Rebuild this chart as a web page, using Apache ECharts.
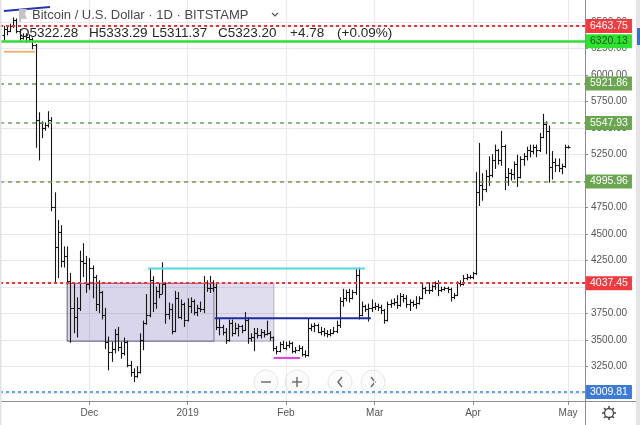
<!DOCTYPE html>
<html><head><meta charset="utf-8">
<script src="https://cdn.jsdelivr.net/npm/echarts@6/dist/echarts.min.js"></script>
<style>html,body{margin:0;padding:0;background:#fff;}#c{width:640px;height:425px;}</style>
</head><body><div id="c"></div><script>
// ---------------- DATA ----------------
const firstDate = '2018-11-04';
const opens = [
 6380,6440,6420,6460,6520,6420,6350,6370,6360,6340,6280,5580,5550,5500,5530,5580,4760,4380,4520,4250,4290,4060,3800,3720,3800,4250,4230,
 4030,4180,4100,3840,3950,3740,3480,3390,3420,3560,3440,3380,3480,3270,3200,3160,3200,3500,3660,3740,4070,3850,3960,3940,4030,3750,3790,3590,3900,3720,3840,
 3690,3820,3870,3770,3800,3790,4040,3990,3990,4000,3620,3620,3580,3500,3660,3570,3610,3630,3600,3690,3520,3530,3570,3550,3580,3560,3570,3530,3430,3400,3460,
 3430,3450,3470,3400,3410,3430,3370,3360,3610,3630,3640,3580,3590,3570,3560,3570,3590,3640,3870,3900,3950,3900,3950,4110,3740,3820,3790,3800,
 3810,3820,3810,3780,3690,3840,3850,3860,3830,3920,3900,3840,3860,3840,3850,3900,3990,3970,3970,4010,4040,3970,3980,3990,3980,3910,3930,4040,4030,4090,4100,
 4100,4130,4900,4960,4930,5050,5060,5200,5290,5200,5330,5040,5080,5070,5160,5040,5210,5240,5290,5280,5320,5290,5420,5540,5470,5130,5180,5150,5120,5140,
 5322.28
];
const highs = [
 6460,6450,6480,6540,6530,6430,6390,6390,6380,6350,6290,5645,5560,5550,5655,5600,4890,4630,4580,4380,4380,4130,4040,3900,4340,4410,4290,
 4270,4200,4110,4060,3960,3800,3530,3480,3600,3620,3480,3520,3490,3300,3230,3250,3560,3680,3930,4170,4100,4000,4030,4230,4040,3850,3840,3960,3950,3880,3850,
 3890,3900,3880,3830,3860,4100,4060,4100,4060,4030,3700,3640,3610,3690,3690,3660,3650,3640,3760,3710,3560,3610,3610,3600,3590,3680,3580,3530,3440,3480,3490,
 3480,3490,3480,3430,3450,3440,3400,3700,3650,3660,3650,3620,3610,3590,3600,3620,3680,3900,3980,3970,3980,3970,4170,4180,3860,3830,3840,3880,
 3850,3840,3830,3790,3860,3880,3890,3920,3940,3930,3920,3880,3870,3910,3910,4040,4000,4040,4020,4050,4060,4000,4000,4000,3990,3940,4050,4060,4110,4120,4110,
 4140,5080,5356,5070,5100,5230,5250,5340,5300,5470,5340,5120,5110,5180,5245,5230,5260,5320,5340,5340,5340,5450,5630,5560,5520,5280,5210,5210,5160,5340,
 5333.29
];
const lows = [
 6330,6380,6410,6450,6400,6330,6340,6310,6320,6250,5320,5200,5410,5480,5510,4720,4050,4090,4190,4190,4030,3480,3570,3530,3780,4100,3950,
 3980,3900,3780,3760,3700,3420,3220,3300,3380,3400,3330,3360,3250,3160,3110,3150,3190,3410,3650,3720,3770,3800,3900,3940,3660,3700,3560,3580,3710,3700,3630,
 3680,3760,3740,3730,3770,3760,3960,3950,3960,3600,3550,3550,3470,3490,3540,3560,3540,3570,3590,3470,3490,3400,3520,3520,3530,3550,3500,3400,3370,3390,3420,
 3410,3430,3380,3380,3400,3350,3340,3350,3590,3580,3570,3550,3540,3530,3540,3560,3570,3620,3820,3870,3860,3890,3930,3700,3730,3770,3680,3770,
 3790,3780,3750,3660,3680,3810,3830,3800,3820,3860,3810,3780,3820,3800,3840,3890,3940,3940,3960,3980,3920,3960,3970,3950,3870,3890,3920,4010,4020,4070,4080,
 4080,4120,4770,4820,4900,4960,5040,5120,5160,5150,4920,4960,5010,5020,4950,5030,5150,5200,5230,5260,5230,5280,5410,5260,4990,5020,5090,5090,5070,5130,
 5311.37
];
const closes = [
 6440,6420,6460,6520,6420,6350,6370,6360,6340,6280,5580,5550,5500,5530,5580,4760,4380,4520,4250,4290,4060,3800,3720,3800,4250,4230,4030,
 4180,4100,3840,3950,3740,3480,3390,3420,3560,3440,3380,3480,3270,3200,3160,3200,3500,3660,3740,4070,3850,3960,3940,4030,3750,3790,3590,3900,3720,3840,3690,
 3820,3870,3770,3800,3790,4040,3990,3990,4000,3620,3620,3580,3500,3660,3570,3610,3630,3600,3690,3520,3530,3570,3550,3580,3560,3570,3530,3430,3400,3460,3430,
 3450,3470,3400,3410,3430,3370,3360,3610,3630,3640,3580,3590,3570,3560,3570,3590,3640,3870,3900,3950,3900,3950,4110,3740,3820,3790,3800,3810,
 3820,3810,3780,3690,3840,3850,3860,3830,3920,3900,3840,3860,3840,3850,3900,3990,3970,3970,4010,4040,3970,3980,3990,3980,3910,3930,4040,4030,4090,4100,4100,
 4130,4900,4960,4930,5050,5060,5200,5290,5200,5330,5040,5080,5070,5160,5040,5210,5240,5290,5280,5320,5290,5420,5540,5470,5130,5180,5150,5120,5140,5318.42,
 5323.20
];
const monthTickDates = ['2018-12-01','2019-01-01','2019-02-01','2019-03-01','2019-04-01','2019-05-01'];
const monthTickLabels = ['Dec','2019','Feb','Mar','Apr','May'];
const priceTicks = [3000,3250,3500,3750,4000,4250,4500,4750,5000,5250,5500,5750,6000,6250,6500];
const levelValues = [6463.75, 6320.13, 5921.86, 5547.93, 4995.96, 4037.45, 3009.81];
const lastPrice = 5323.20;
const headerTitle = 'Bitcoin / U.S. Dollar · 1D · BITSTAMP';
const headerOHLC = ['O5322.28','H5333.29','L5311.37','C5323.20','+4.78','(+0.09%)'];
// drawings, in [date, price]
const rectBox = [['2018-11-24T00:00', 4036], ['2019-01-28T05:00', 3490]];
const rectBoxInner = [['2018-11-24T00:00', 4036], ['2019-01-09T07:00', 3490]];
const cyanLine = [['2018-12-19T12:00', 4176], ['2019-02-25T22:00', 4176]];
const navyLine = [['2019-01-09T14:00', 3706], ['2019-02-27T19:00', 3706]];
const magentaLine = [['2019-01-28T05:00', 3332], ['2019-02-05T10:00', 3332]];
const orangeLine = [['2018-11-04T01:00', 6221], ['2018-11-13T19:00', 6221]];
const slopeLine = [['2018-11-04T01:00', 6605], ['2018-11-18T14:00', 6643]];

// ---------------- HELPERS ----------------
const DAY = 86400000;
const t0 = Date.parse(firstDate + 'T00:00:00Z');
const dayIdx = s => (Date.parse(s.length > 10 ? s + ':00Z' : s + 'T00:00:00Z') - t0) / DAY;
const ohlc = opens.map((o, i) => [i, o, highs[i], lows[i], closes[i]]);
const monthIdx = monthTickDates.map(dayIdx);
const pts = arr => arr.map(p => [dayIdx(p[0]), p[1]]);

const FONT = 'Liberation Sans';
const levelStyle = {
  6463.75: {c: '#e8353b', type: [3, 3], w: 2, bg: '#f23a3f', fg: '#fff'},
  6320.13: {c: '#33dd33', type: 'solid', w: 2.5, bg: '#2fe22f', fg: '#165c16'},
  5921.86: {c: '#6f9e55', type: [4, 4], w: 1.5, bg: '#6aa550', fg: '#fff'},
  5547.93: {c: '#6f9e55', type: [4, 4], w: 1.5, bg: '#6aa550', fg: '#fff'},
  4995.96: {c: '#6f9e55', type: [4, 4], w: 1.5, bg: '#6aa550', fg: '#fff'},
  4037.45: {c: '#e8353b', type: [3, 3], w: 2, bg: '#f23a3f', fg: '#fff'},
  3009.81: {c: '#3f7fd3', type: [3, 3], w: 1.5, bg: '#3b7bd6', fg: '#fff'}
};
const mkLabel = (txt, bg, fg) => ({show: true, position: 'end', distance: 1, formatter: txt, color: fg,
  backgroundColor: bg, padding: [2, 4, 1, 4], fontSize: 10.5, fontFamily: FONT});
const levelData = levelValues.map(v => {
  const s = levelStyle[v];
  return {yAxis: v, lineStyle: {color: s.c, type: s.type, width: s.w}, label: mkLabel(v.toFixed(2), s.bg, s.fg)};
});
levelData.push({yAxis: lastPrice, lineStyle: {opacity: 0, width: 0}, label: mkLabel(lastPrice.toFixed(2), '#000', '#fff')});

function renderOHLC(params, api) {
  const d = api.value(0);
  const h = api.coord([d, api.value(2)]);
  const l = api.coord([d, api.value(3)]);
  const o = api.coord([d, api.value(1)]);
  const c = api.coord([d, api.value(4)]);
  const x = Math.round(h[0]) + 0.5;
  const st = {stroke: '#161616', lineWidth: 1.1};
  const oy = Math.round(o[1]) + 0.5, cy = Math.round(c[1]) + 0.5;
  return {type: 'group', children: [
    {type: 'line', shape: {x1: x, y1: h[1] - 0.5, x2: x, y2: l[1] + 0.5}, style: st},
    {type: 'line', shape: {x1: x - 2, y1: oy, x2: x, y2: oy}, style: st},
    {type: 'line', shape: {x1: x, y1: cy, x2: x + 2, y2: cy}, style: st}
  ]};
}
const drawLine = (name, data, color, width) => ({
  name, type: 'line', data: pts(data), symbol: 'none', silent: true, z: 6,
  lineStyle: {color, width}, animation: false
});
const rectArea = (data, fill, border) => [{coord: [dayIdx(data[0][0]), data[0][1]],
  itemStyle: {color: fill, borderColor: border, borderWidth: 1}}, {coord: [dayIdx(data[1][0]), data[1][1]]}];

const chart = echarts.init(document.getElementById('c'), null, {renderer: 'canvas'});
const gridCol = '#e7e7ec';
const axisCol = '#8c8c8c';
const btnStroke = {stroke: '#666', lineWidth: 1.4, fill: null};
const buttons = [
  {x: 266, marks: [[[261, 382], [271, 382]]]},
  {x: 297, marks: [[[292, 382], [302, 382]], [[297, 377], [297, 387]]]},
  {x: 340, marks: [[[342, 377], [338, 382], [342, 387]]]},
  {x: 373, marks: [[[371, 377], [375, 382], [371, 387]]]}
];
chart.setOption({
  animation: false,
  backgroundColor: '#ffffff',
  grid: {left: 0, right: 55, top: 0, bottom: 24, containLabel: false},
  xAxis: {
    type: 'value', min: -1.2, max: 183.35,
    axisLine: {show: true, onZero: false, lineStyle: {color: axisCol}},
    axisTick: {show: true, customValues: monthIdx, length: 4, lineStyle: {color: axisCol}},
    axisLabel: {customValues: monthIdx, color: '#555', fontSize: 10, fontFamily: FONT, margin: 7,
      formatter: v => { const i = monthIdx.findIndex(m => Math.abs(m - v) < 1e-6); return i >= 0 ? monthTickLabels[i] : ''; }},
    splitLine: {show: true, lineStyle: {color: gridCol, width: 1}}
  },
  yAxis: {
    type: 'value', position: 'right', min: 2926, max: 6709, scale: true,
    axisLine: {show: true, onZero: false, lineStyle: {color: axisCol}},
    axisTick: {show: true, customValues: priceTicks, length: 3, lineStyle: {color: axisCol}},
    axisLabel: {customValues: priceTicks, color: '#555', fontSize: 10, fontFamily: FONT, margin: 6,
      formatter: v => v.toFixed(2)},
    splitLine: {show: true, lineStyle: {color: gridCol, width: 1}}
  },
  series: [
    {name: 'rect', type: 'line', data: [], silent: true, z: 1,
     markArea: {silent: true, data: [
       rectArea(rectBox, 'rgba(125,112,185,0.24)', 'rgba(110,100,150,0.45)'),
       rectArea(rectBoxInner, 'rgba(125,112,185,0.07)', 'rgba(80,70,110,0.65)')
     ]}},
    {name: 'levels', type: 'line', data: [], silent: true, z: 3,
     markLine: {silent: true, symbol: ['none', 'none'], animation: false, data: levelData, emphasis: {disabled: true}}},
    {name: 'BTCUSD', type: 'custom', renderItem: renderOHLC, data: ohlc, z: 4,
     encode: {x: 0, y: [1, 2, 3, 4]}, clip: true, silent: true},
    drawLine('cyan', cyanLine, '#55d6e3', 2),
    drawLine('navy', navyLine, '#1d2c9c', 2),
    drawLine('magenta', magentaLine, '#e142dc', 2),
    drawLine('orange', orangeLine, '#f2b27a', 2),
    drawLine('slope', slopeLine, '#2637ad', 2)
  ],
  graphic: [
    {type: 'rect', shape: {x: 0, y: 0, width: 1.5, height: 425}, style: {fill: '#e2e2e6'}, z: 50},
    {type: 'rect', shape: {x: 636, y: 0, width: 4, height: 425}, style: {fill: '#e3e3e8'}, z: 50},
    {type: 'rect', shape: {x: 637, y: 28, width: 3, height: 17}, style: {fill: '#2f73d8'}, z: 51},
    {type: 'line', shape: {x1: 585, y1: 401.5, x2: 636, y2: 401.5}, style: {stroke: axisCol, lineWidth: 1}, z: 50},
    {type: 'line', shape: {x1: 585.5, y1: 401, x2: 585.5, y2: 425}, style: {stroke: axisCol, lineWidth: 1}, z: 50},
    // flag icon
    {type: 'polygon', shape: {points: [[19, 9], [27, 9], [25, 14], [27, 19], [21, 19], [21, 22], [19, 22]]},
     style: {fill: '#c4c4c8'}, z: 60},
    {type: 'text', x: 32, y: 15, style: {text: headerTitle, fill: '#4a4a4a', font: '13px ' + FONT, verticalAlign: 'middle'}, z: 60},
    {type: 'polyline', shape: {points: [[272, 13], [275, 16], [278, 13]]}, style: {stroke: '#555', lineWidth: 1.2, fill: null}, z: 60},
    ...headerOHLC.map((t, i) => ({type: 'text', x: [19, 89, 152, 218, 290, 337][i], y: 33,
      style: {text: t, fill: '#262626', font: '13.5px ' + FONT, verticalAlign: 'middle'}, z: 60})),
    // navigation buttons
    ...buttons.map(b => ({type: 'group', z: 60, children: [
      {type: 'circle', shape: {cx: b.x, cy: 382, r: 12}, style: {fill: 'rgba(250,250,252,0.85)', stroke: '#e6e6ea', lineWidth: 1}},
      ...b.marks.map(m => ({type: 'polyline', shape: {points: m}, style: btnStroke}))
    ]})),
    // gear icon
    {type: 'group', z: 60, children: [
      {type: 'circle', shape: {cx: 609, cy: 413, r: 4.5}, style: {fill: 'none', stroke: '#444', lineWidth: 1.3}},
      ...[0, 1, 2, 3, 4, 5, 6, 7].map(k => {
        const a = k * Math.PI / 4;
        return {type: 'line', shape: {x1: 609 + 4.5 * Math.cos(a), y1: 413 + 4.5 * Math.sin(a), x2: 609 + 7 * Math.cos(a), y2: 413 + 7 * Math.sin(a)},
          style: {stroke: '#444', lineWidth: 1.5}};
      })
    ]}
  ]
});
</script></body></html>
